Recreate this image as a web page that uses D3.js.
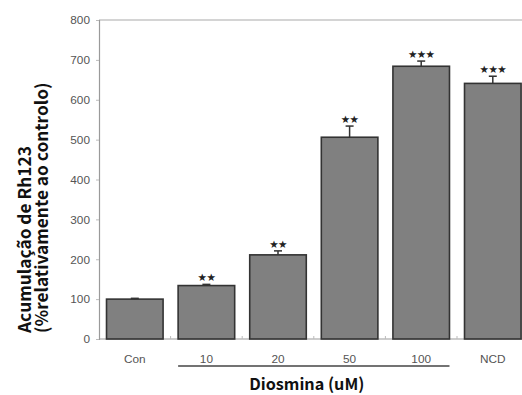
<!DOCTYPE html>
<html>
<head>
<meta charset="utf-8">
<script src="https://cdn.jsdelivr.net/npm/d3@7"></script>
<style>
  html, body { margin: 0; padding: 0; background: #fff; }
  svg { display: block; }
</style>
</head>
<body>
<div id="chart"></div>
<script>
// Rh123 accumulation relative to control
const categories = ["Con", "10", "20", "50", "100", "NCD"];
const values = [100, 134, 211, 506, 684, 641];
const errors = [2, 3, 10, 28, 13, 18];
const stars = ["", "**", "**", "**", "***", "***"];
const yTicks = [0, 100, 200, 300, 400, 500, 600, 700, 800];
const yTitleLines = ["Acumulação de Rh123", "(%relativamente ao controlo)"];
const xTitle = "Diosmina (uM)";
const doseGroup = ["10", "100"]; // first and last dose under the bracket line

const W = 522, H = 395;
const margin = { top: 20, left: 99, bottom: 56 };
const plotBottom = H - margin.bottom; // 339

const svg = d3.select("#chart").append("svg")
  .attr("width", W).attr("height", H);

const x = d3.scaleBand()
  .domain(categories)
  .range([margin.left, margin.left + 6 * 71.6])
  .paddingInner(0.21)
  .paddingOuter(0.105);

const y = d3.scaleLinear().domain([0, 800]).range([plotBottom, margin.top]);

const axisColor = "#9a9a9a";
const labelColor = "#555";

// frame: top rule
svg.append("line")
  .attr("x1", margin.left).attr("x2", W)
  .attr("y1", y(800)).attr("y2", y(800))
  .attr("stroke", "#aaa").attr("stroke-width", 1.2);

// y axis
const yAxis = svg.append("g")
  .attr("transform", `translate(${margin.left},0)`)
  .call(d3.axisLeft(y).tickValues(yTicks).tickSize(3).tickPadding(6));
yAxis.select(".domain").attr("stroke", axisColor).attr("stroke-width", 1.2);
yAxis.selectAll(".tick line").attr("stroke", "#bbb");
yAxis.selectAll(".tick text")
  .attr("fill", labelColor)
  .style("font-family", "'Liberation Sans', Arial, sans-serif")
  .style("font-size", "11.8px");

// x axis baseline with small ticks between bars
svg.append("line")
  .attr("x1", margin.left).attr("x2", W)
  .attr("y1", plotBottom).attr("y2", plotBottom)
  .attr("stroke", axisColor).attr("stroke-width", 1.2);

const gapHalf = x.step() * x.paddingInner() / 2;
svg.selectAll(".sep")
  .data(categories.slice(1))
  .join("line")
  .attr("x1", d => x(d) - gapHalf).attr("x2", d => x(d) - gapHalf)
  .attr("y1", plotBottom).attr("y2", plotBottom - 3)
  .attr("stroke", "#bbb").attr("stroke-width", 1);

// bars
svg.selectAll(".bar")
  .data(categories)
  .join("rect")
  .attr("x", d => x(d))
  .attr("width", x.bandwidth())
  .attr("y", (d, i) => y(values[i]))
  .attr("height", (d, i) => y(0) - y(values[i]))
  .attr("fill", "#808080")
  .attr("stroke", "#333")
  .attr("stroke-width", 1.6);

// error bars (upper) and significance marks
const capHalf = 4;
categories.forEach((c, i) => {
  const cx = x(c) + x.bandwidth() / 2;
  const top = y(values[i] + errors[i]);
  svg.append("line")
    .attr("x1", cx).attr("x2", cx)
    .attr("y1", y(values[i])).attr("y2", top)
    .attr("stroke", "#333").attr("stroke-width", 1.5);
  svg.append("line")
    .attr("x1", cx - capHalf).attr("x2", cx + capHalf)
    .attr("y1", top).attr("y2", top)
    .attr("stroke", "#333").attr("stroke-width", 1.5);
  if (stars[i]) {
    svg.append("text")
      .attr("x", cx).attr("y", top - 3)
      .attr("text-anchor", "middle")
      .attr("fill", "#222")
      .style("font-family", "'DejaVu Sans', sans-serif")
      .style("font-size", "10.5px")
      .style("letter-spacing", "-0.6px")
      .text(stars[i].replace(/\*/g, "★"));
  }
});

// category labels
svg.selectAll(".cat")
  .data(categories)
  .join("text")
  .attr("x", d => x(d) + x.bandwidth() / 2)
  .attr("y", plotBottom + 24)
  .attr("text-anchor", "middle")
  .attr("fill", labelColor)
  .style("font-family", "'Liberation Sans', Arial, sans-serif")
  .style("font-size", "11.8px")
  .text(d => d);

// bracket under dose groups
const bx0 = x(doseGroup[0]), bx1 = x(doseGroup[1]) + x.bandwidth();
svg.append("line")
  .attr("x1", bx0).attr("x2", bx1)
  .attr("y1", plotBottom + 27).attr("y2", plotBottom + 27)
  .attr("stroke", "#444").attr("stroke-width", 1.4);

// x title
svg.append("text")
  .attr("x", (bx0 + bx1) / 2 - 7)
  .attr("y", plotBottom + 51)
  .attr("text-anchor", "middle")
  .attr("fill", "#111")
  .style("font-family", "'Noto Sans CJK KR', 'Noto Sans', sans-serif")
  .style("font-weight", "bold")
  .style("font-size", "16.2px")
  .text(xTitle);

// y title, two lines, rotated
const yTitle = svg.append("text")
  .attr("transform", `translate(0,${plotBottom - 6}) rotate(-90)`)
  .attr("text-anchor", "start")
  .attr("fill", "#111")
  .style("font-family", "'Noto Sans CJK KR', 'Noto Sans', sans-serif")
  .style("font-weight", "bold")
  .style("font-size", "17.3px");
yTitleLines.forEach((t, i) => {
  yTitle.append("tspan")
    .attr("x", 0)
    .attr("y", 31 + i * 17)
    .text(t);
});
</script>
</body>
</html>
